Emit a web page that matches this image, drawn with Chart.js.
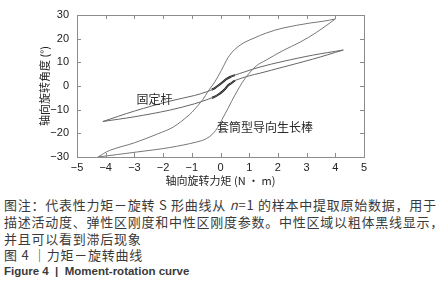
<!DOCTYPE html>
<html>
<head>
<meta charset="utf-8">
<script src="https://cdn.jsdelivr.net/npm/chart.js@4.4.1/dist/chart.umd.min.js"></script>
<style>
body { margin: 0; width: 446px; height: 300px; background: #fff; position: relative; overflow: hidden;
       font-family: "Noto Sans CJK SC", sans-serif; color: #3a3a3a; }
#wrap { position: absolute; left: 0; top: 0; width: 446px; height: 195px; }
.cap { position: absolute; left: 4px; font-size: 13px; line-height: 17px; white-space: nowrap; letter-spacing: 0.75px; }
.en { font-family: "Liberation Sans", sans-serif; font-weight: bold; font-size: 11.5px; letter-spacing: 0; }
</style>
</head>
<body>
<div id="wrap"><canvas id="c"></canvas></div>
<div class="cap" style="top:196px">图注：代表性力矩－旋转 S 形曲线从 <i>n</i>=1 的样本中提取原始数据，用于</div>
<div class="cap" style="top:213px">描述活动度、弹性区刚度和中性区刚度参数。中性区域以粗体黑线显示，</div>
<div class="cap" style="top:230px">并且可以看到滞后现象</div>
<div class="cap" style="top:246px">图 4 ｜力矩－旋转曲线</div>
<div class="cap en" style="top:263px">Figure 4&nbsp; |&nbsp; Moment-rotation curve</div>
<script>
// axis ticks
const xTicks = [-5, -4, -3, -2, -1, 0, 1, 2, 3, 4, 5];
const yTicks = [-30, -20, -10, 0, 10, 20, 30];

// sleeve type growing rod (wide loop) - loading branch
const sleeveUpX = [-4.27, -3.86, -3.0, -2.2, -1.64, -1.07, -0.9, -0.6, -0.45, -0.2, 0.03, 0.21, 0.32, 0.5, 0.8, 1.2, 1.6, 2.18, 3.12, 3.6, 4.0];
const sleeveUpY = [-30, -27.2, -24, -20.3, -17.3, -12, -9.8, -5.5, -2.5, 1.7, 6.6, 10.9, 13, 15.5, 18.2, 20.4, 22.4, 24.5, 26.6, 27.4, 28.3];
// unloading branch
const sleeveDownX = [4.0, 3.35, 2.77, 2.18, 1.6, 1.25, 0.85, 0.5, 0.26, 0.06, -0.1, -0.26, -0.5, -0.84, -1.77, -2.92, -4.27];
const sleeveDownY = [28.3, 22.7, 18.5, 15, 11, 8.5, 3.1, -3.9, -9.5, -14, -17.5, -20.1, -22.3, -23.7, -26, -27.9, -30];

// fixed rod (narrow loop)
const fixedUpX = [-4.1, -3.0, -1.77, -0.9, -0.5, -0.3, -0.2, -0.05, 0.1, 0.2, 0.35, 0.5, 0.85, 1.37, 2.18, 3.2, 4.28];
const fixedUpY = [-15, -10.6, -6.4, -4.0, -2.5, -1.6, -0.9, 0.4, 1.9, 2.9, 3.9, 4.6, 6.0, 8.0, 10.4, 13.0, 15.2];
const fixedDownX = [4.28, 3.2, 2.18, 1.37, 1.0, 0.5, 0.4, 0.26, 0.15, 0.03, -0.1, -0.2, -0.3, -0.5, -0.9, -1.77, -3.0, -4.1];
const fixedDownY = [15.2, 11.3, 8.0, 5.4, 4.3, 2.3, 1.4, 0.2, -1.4, -2.7, -3.8, -4.5, -5.0, -5.9, -7.5, -10.2, -13.0, -15];

// neutral zone range (bold black)
const neutralUp = [-0.3, 0.5];
const neutralDown = [-0.3, 0.5];

// in-plot labels
const noteText = ['固定杆', '套筒型导向生长棒'];
const noteX = [-2.3, 1.55];
const noteY = [-5.6, -17.4];

const pts = (xs, ys) => xs.map((v, i) => ({x: v, y: ys[i]}));
const inRange = (arr, r) => arr.filter(p => p.x >= r[0] && p.x <= r[1]);

const grey = '#777';
const line = (data, color, w) => ({
    data: data,
    borderColor: color,
    borderWidth: w,
    showLine: true,
    fill: false,
    tension: 0.35,
    pointRadius: 0
});

const framePlugin = {
    id: 'frame',
    afterDraw(chart) {
        const {ctx, chartArea: a, scales: {x, y}} = chart;
        ctx.save();
        ctx.strokeStyle = '#8c8c8c';
        ctx.lineWidth = 1;
        ctx.strokeRect(a.left + 0.5, a.top + 0.5, a.right - a.left, a.bottom - a.top);
        ctx.beginPath();
        xTicks.forEach(v => {
            const px = Math.round(x.getPixelForValue(v)) + 0.5;
            ctx.moveTo(px, a.bottom); ctx.lineTo(px, a.bottom - 4);
            ctx.moveTo(px, a.top); ctx.lineTo(px, a.top + 4);
        });
        yTicks.forEach(v => {
            const py = Math.round(y.getPixelForValue(v)) + 0.5;
            ctx.moveTo(a.left, py); ctx.lineTo(a.left + 4, py);
            ctx.moveTo(a.right, py); ctx.lineTo(a.right - 4, py);
        });
        ctx.stroke();
        ctx.fillStyle = '#2a2a2a';
        ctx.font = '12px "Noto Sans CJK SC"';
        ctx.textAlign = 'center';
        ctx.textBaseline = 'middle';
        noteText.forEach((t, i) => {
            ctx.fillText(t, x.getPixelForValue(noteX[i]), y.getPixelForValue(noteY[i]));
        });
        ctx.restore();
    }
};

const minus = v => (v < 0 ? '\u2212' + Math.abs(v) : '' + v);

new Chart(document.getElementById('c'), {
    type: 'scatter',
    data: {
        datasets: [
            line(pts(sleeveUpX, sleeveUpY), grey, 1),
            line(pts(sleeveDownX, sleeveDownY), grey, 1),
            line(pts(fixedUpX, fixedUpY), '#666', 1),
            line(pts(fixedDownX, fixedDownY), '#666', 1),
            line(inRange(pts(fixedUpX, fixedUpY), neutralUp), '#111', 2),
            line(inRange(pts(fixedDownX, fixedDownY), neutralDown), '#111', 2)
        ]
    },
    options: {
        animation: false,
        responsive: true,
        maintainAspectRatio: false,
        layout: { padding: { left: 0, top: 15, right: 82, bottom: 0 } },
        plugins: {
            legend: { display: false },
            tooltip: { enabled: false }
        },
        scales: {
            x: {
                type: 'linear',
                min: -5, max: 5,
                afterBuildTicks: s => { s.ticks = xTicks.map(v => ({value: v})); },
                afterFit: s => { s.height = 38; },
                grid: { display: false, drawTicks: false },
                border: { display: false },
                ticks: { callback: minus, color: '#222', padding: 4, maxRotation: 0,
                         font: { family: 'Liberation Sans', size: 11 } },
                title: { display: true, text: '轴向旋转力矩 (N • m)', color: '#222',
                         font: { family: 'Noto Sans CJK SC', size: 11 }, padding: { top: 0, bottom: 8 } }
            },
            y: {
                type: 'linear',
                min: -30, max: 30,
                afterBuildTicks: s => { s.ticks = yTicks.map(v => ({value: v})); },
                afterFit: s => { s.width = 77; },
                grid: { display: false, drawTicks: false },
                border: { display: false },
                ticks: { callback: minus, color: '#222', padding: 8,
                         font: { family: 'Liberation Sans', size: 11 } },
                title: { display: true, text: '轴向旋转角度 (°)', color: '#222',
                         font: { family: 'Noto Sans CJK SC', size: 11 }, padding: { top: 38, bottom: 0 } }
            }
        }
    },
    plugins: [framePlugin]
});
</script>
</body>
</html>
